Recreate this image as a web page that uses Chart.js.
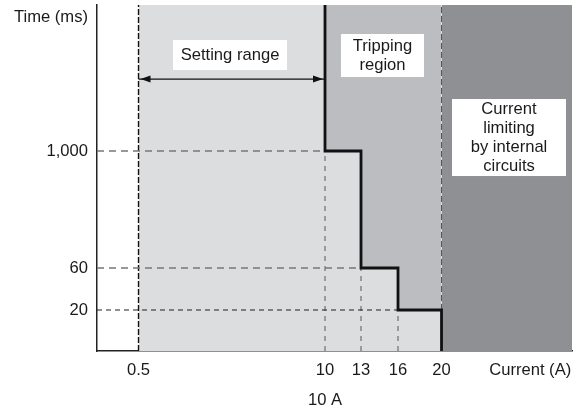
<!DOCTYPE html>
<html>
<head>
<meta charset="utf-8">
<script src="https://cdn.jsdelivr.net/npm/chart.js@4.4.0/dist/chart.umd.min.js"></script>
<style>
  html, body { margin: 0; padding: 0; background: #fff; }
  .wrap { width: 578px; height: 412px; position: relative; }
</style>
</head>
<body>
<div class="wrap"><canvas id="tripChart"></canvas></div>

<script>
  // trip characteristic: current thresholds (A) and trip times (ms)
  var currentTicks = [0.5, 10, 13, 16, 20];
  var currentLabels = ['0.5', '10', '13', '16', '20'];
  var stepCurrents = [10, 13, 16, 20];
  var stepTimes = [1000, 60, 20];
  var timeTicks = [1000, 60, 20];
  var timeLabels = ['1,000', '60', '20'];
  var ratedCurrent = '10 A';

  // the drawing is schematic, not to scale: where each value sits on its axis (0..10 units)
  var xSlot = { 0.5: 0.874, 10: 4.8, 13: 5.558, 16: 6.337, 20: 7.253 };
  var ySlot = { 1000: 5.78, 60: 2.399, 20: 1.185 };
  var TOP = 10;
  var X_TITLE_AT = 9.12;
  var Y_TITLE_AT = 9.65;
  var ARROW_AT = 7.86;

  var FONT = "'Liberation Sans', Arial, sans-serif";
  var FS = 16.6;
  Chart.defaults.font.family = FONT;
  Chart.defaults.color = '#1a1a1a';

  function pt(x, y) { return { x: x, y: y }; }

  function stepPoints() {
    var pts = [pt(xSlot[stepCurrents[0]], TOP)];
    for (var i = 0; i < stepTimes.length; i++) {
      pts.push(pt(xSlot[stepCurrents[i]], ySlot[stepTimes[i]]));
      pts.push(pt(xSlot[stepCurrents[i + 1]], ySlot[stepTimes[i]]));
    }
    pts.push(pt(xSlot[stepCurrents[stepCurrents.length - 1]], 0));
    return pts;
  }

  function area(points, color, order) {
    return { data: points, borderWidth: 0, backgroundColor: color, fill: 'origin', order: order };
  }

  function guide(points, color, dash, width) {
    return { data: points, borderColor: color, borderDash: dash, borderWidth: width, fill: false, order: 5 };
  }

  var x05 = xSlot[0.5], x10 = xSlot[10], x13 = xSlot[13], x16 = xSlot[16], x20 = xSlot[20];

  var datasets = [
    area([pt(x20, TOP), pt(10, TOP)], '#8f9093', 10),
    area([pt(x10, TOP), pt(x20, TOP)], '#bcbdc0', 9),
    area([pt(x05, TOP)].concat(stepPoints()), '#dcdddf', 8),

    guide([pt(0, ySlot[1000]), pt(x10, ySlot[1000])], '#777', [7, 5], 1.4),
    guide([pt(0, ySlot[60]), pt(x13, ySlot[60])], '#777', [7, 5], 1.4),
    guide([pt(0, ySlot[20]), pt(x16, ySlot[20])], '#222', [5, 4], 1),
    guide([pt(x05, 0), pt(x05, TOP)], '#111', [6, 2], 1.4),
    guide([pt(x10, 0), pt(x10, ySlot[1000])], '#777', [5, 5], 1.3),
    guide([pt(x13, 0), pt(x13, ySlot[60])], '#777', [5, 5], 1.3),
    guide([pt(x16, 0), pt(x16, ySlot[20])], '#777', [5, 5], 1.3),
    guide([pt(x20, ySlot[20]), pt(x20, TOP)], '#555', [6, 3], 1),

    { data: [pt(x05, ARROW_AT), pt(x10, ARROW_AT)], borderColor: '#111', borderWidth: 1.3, fill: false, order: 2 },
    { data: stepPoints(), borderColor: '#111', borderWidth: 2.8, fill: false, order: 1, borderJoinStyle: 'miter' }
  ];

  var xTickValues = currentTicks.map(function (c) { return xSlot[c]; }).concat([X_TITLE_AT]);
  var xTickText = currentLabels.map(function (l, i) { return i === 1 ? [l, ratedCurrent] : l; }).concat(['Current (A)']);
  var yTickValues = timeTicks.map(function (t) { return ySlot[t]; }).concat([Y_TITLE_AT]);
  var yTickText = timeLabels.concat(['Time (ms)']);

  var notes = [
    { lines: ['Setting range'], cx: 2.8, cy: 8.555, w: 114, h: 30 },
    { lines: ['Tripping', 'region'], cx: 6.01, cy: 8.54, w: 83, h: 43 },
    { lines: ['Current', 'limiting', 'by internal', 'circuits'], cx: 8.674, cy: 6.17, w: 114, h: 77 }
  ];

  var annotate = {
    id: 'annotate',
    afterDatasetsDraw: function (chart) {
      var ctx = chart.ctx, xs = chart.scales.x, ys = chart.scales.y;
      ctx.save();

      // arrow heads on the setting range line
      var ay = ys.getPixelForValue(ARROW_AT);
      var left = xs.getPixelForValue(x05) + 2, right = xs.getPixelForValue(x10) - 2;
      ctx.fillStyle = '#111';
      ctx.beginPath();
      ctx.moveTo(left, ay); ctx.lineTo(left + 10, ay - 3.5); ctx.lineTo(left + 10, ay + 3.5);
      ctx.closePath(); ctx.fill();
      ctx.beginPath();
      ctx.moveTo(right, ay); ctx.lineTo(right - 10, ay - 3.5); ctx.lineTo(right - 10, ay + 3.5);
      ctx.closePath(); ctx.fill();

      // label boxes
      ctx.font = FS + 'px ' + FONT;
      ctx.textAlign = 'center';
      ctx.textBaseline = 'middle';
      notes.forEach(function (n) {
        var cx = xs.getPixelForValue(n.cx), cy = ys.getPixelForValue(n.cy);
        ctx.fillStyle = '#fff';
        ctx.fillRect(cx - n.w / 2, cy - n.h / 2, n.w, n.h);
        ctx.fillStyle = '#1a1a1a';
        var y0 = cy - (n.lines.length - 1) * 19 / 2;
        n.lines.forEach(function (l, i) { ctx.fillText(l, cx, y0 + i * 19); });
      });
      ctx.restore();
    }
  };

  new Chart(document.getElementById('tripChart'), {
    type: 'line',
    data: { datasets: datasets },
    options: {
      responsive: true,
      maintainAspectRatio: false,
      animation: false,
      events: [],
      layout: { padding: { top: 5, right: 6, left: 0, bottom: 0 } },
      elements: { point: { radius: 0, hoverRadius: 0 }, line: { tension: 0 } },
      plugins: { legend: { display: false }, tooltip: { enabled: false } },
      scales: {
        x: {
          type: 'linear', min: 0, max: TOP,
          grid: { display: false, drawTicks: false },
          border: { display: true, color: '#222', width: 1.5 },
          ticks: {
            autoSkip: false, maxRotation: 0, padding: 4,
            font: { size: FS, lineHeight: 1.84 },
            callback: function (v, i) { return xTickText[i]; }
          },
          afterBuildTicks: function (s) { s.ticks = xTickValues.map(function (v) { return { value: v }; }); },
          afterFit: function (s) { s.height = 61; s.paddingLeft = 0; s.paddingRight = 0; }
        },
        y: {
          type: 'linear', min: 0, max: TOP,
          grid: { display: false, drawTicks: false },
          border: { display: true, color: '#222', width: 1.5 },
          ticks: {
            autoSkip: false, padding: 9,
            font: { size: FS },
            callback: function (v, i) { return yTickText[i]; }
          },
          afterBuildTicks: function (s) { s.ticks = yTickValues.map(function (v) { return { value: v }; }); },
          afterFit: function (s) { s.width = 97; s.paddingTop = 0; s.paddingBottom = 0; }
        }
      }
    },
    plugins: [annotate]
  });
</script>
</body>
</html>
